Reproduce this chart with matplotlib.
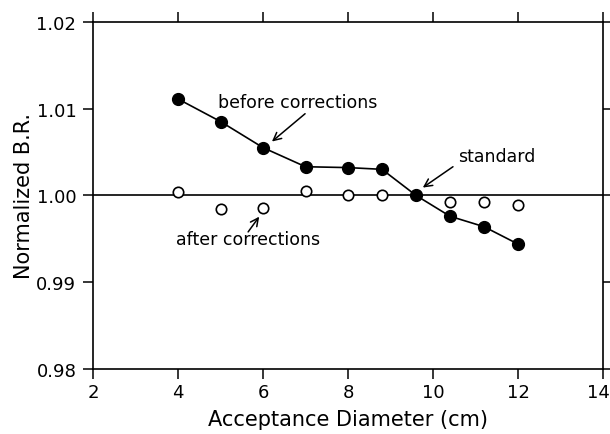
import matplotlib
matplotlib.use("Agg")
import matplotlib.pyplot as plt
import matplotlib.transforms as mtransforms

# acceptance diameter (cm)
diam = [4, 5, 6, 7, 8, 8.8, 9.6, 10.4, 11.2, 12]
before = [1.0111, 1.0085, 1.0055, 1.0033, 1.0032, 1.0030, 1.0000, 0.9976, 0.9964, 0.9944]

diam_after = [4, 5, 6, 7, 8, 8.8, 10.4, 11.2, 12]
after = [1.0004, 0.9984, 0.9986, 1.0005, 1.0001, 1.0000, 0.9992, 0.9992, 0.9989]

xticks = [2, 4, 6, 8, 10, 12, 14]
yticks = [0.98, 0.99, 1.00, 1.01, 1.02]
ytick_labels = ["0.98", "0.99", "1.00", "1.01", "1.02"]

plt.rcParams['font.family'] = ['DejaVu Sans']

fig = plt.figure(figsize=(6.1, 4.35), dpi=100)
ax = fig.add_axes([0.1525, 0.149, 0.836, 0.799])

ax.axhline(1.0, color="black", lw=1.2, zorder=1)
ax.plot(diam, before, color="black", lw=1.2, marker="o", ms=8.5,
        mfc="black", mec="black", zorder=3)
ax.plot(diam_after, after, ls="none", marker="o", ms=7.5,
        mfc="white", mec="black", mew=1.2, zorder=2)

ax.set_xlim(2, 14)
ax.set_ylim(0.98, 1.02)
ax.set_xticks(xticks)
ax.set_yticks(yticks)
ax.set_yticklabels(ytick_labels)
ax.tick_params(direction="out", length=7, width=1.1, labelsize=13,
               top=True, right=True, labeltop=False, labelright=False)
ax.tick_params(axis="x", pad=3)
ax.tick_params(axis="y", pad=5)
for s in ax.spines.values():
    s.set_linewidth(1.2)

# nudge the last x label so it stays inside the picture
last = ax.get_xticklabels()[-1]
last.set_transform(last.get_transform() +
                   mtransforms.ScaledTranslation(-3 / 72, 0, fig.dpi_scale_trans))

ax.set_xlabel("Acceptance Diameter (cm)", fontsize=15, labelpad=6)
ax.set_ylabel("Normalized B.R.", fontsize=15, labelpad=2)

arrow = dict(arrowstyle="->", color="black", lw=1.1, mutation_scale=14,
             shrinkA=0, shrinkB=0)
ax.text(4.94, 1.0108, "before corrections", fontsize=12.5, va="center", ha="left")
ax.annotate("", xy=(6.21, 1.0062), xytext=(6.99, 1.0094), arrowprops=arrow)

ax.text(3.95, 0.9950, "after corrections", fontsize=12.5, va="center", ha="left")
ax.annotate("", xy=(5.91, 0.99755), xytext=(5.65, 0.9958), arrowprops=arrow)

ax.text(11.49, 1.00457, "standard", fontsize=12.5, va="center", ha="center")
ax.annotate("", xy=(9.76, 1.0009), xytext=(10.47, 1.0033), arrowprops=arrow)

fig.savefig("out.png", dpi=100)
